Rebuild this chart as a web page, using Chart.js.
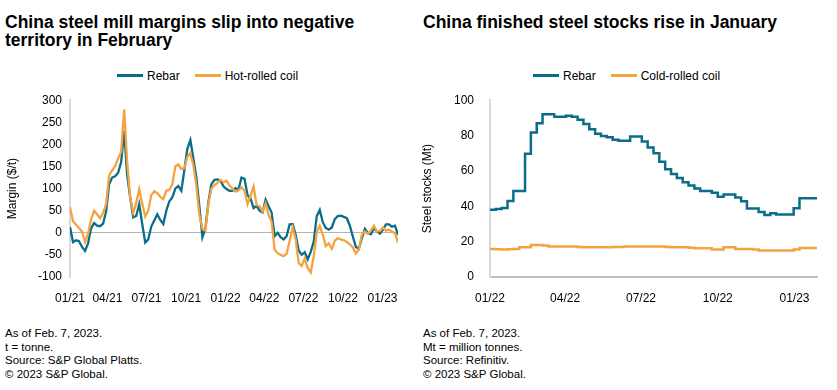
<!DOCTYPE html>
<html>
<head>
<meta charset="utf-8">
<script src="https://cdn.jsdelivr.net/npm/chart.js@4.4.0/dist/chart.umd.min.js"></script>
<style>
  body { margin: 0; background: #fff; width: 837px; height: 390px; position: relative; overflow: hidden; font-family: "Liberation Sans", Arial, sans-serif; color: #000; }
  .title { position: absolute; font-family: "Liberation Sans", sans-serif; font-weight: bold; font-size: 17.5px; line-height: 18px; }
  .legend { position: absolute; font-size: 12px; height: 14px; line-height: 14px; white-space: nowrap; }
  .legend span.sw { display: inline-block; width: 26px; height: 3px; vertical-align: middle; margin-right: 4px; position: relative; top: -1px; }
  .legend span.gap { display: inline-block; width: 15px; }
  .note { position: absolute; font-family: "Liberation Sans", sans-serif; font-size: 11.5px; line-height: 13.5px; }
  canvas { position: absolute; }
</style>
</head>
<body>
<div class="title" style="left:5px; top:13px;">China steel mill margins slip into negative<br>territory in February</div>
<div class="title" style="left:423px; top:13px;">China finished steel stocks rise in January</div>

<div class="legend" style="left:117px; top:69px;"><span class="sw" style="background:#0a6d8a"></span>Rebar<span class="gap"></span><span class="sw" style="background:#f4a340"></span>Hot-rolled coil</div>
<div class="legend" style="left:533px; top:69px;"><span class="sw" style="background:#0a6d8a"></span>Rebar<span class="gap"></span><span class="sw" style="background:#f4a340"></span>Cold-rolled coil</div>

<div style="position:absolute; left:0; top:85px; width:410px; height:222px;"><canvas id="marginChart"></canvas></div>
<div style="position:absolute; left:418px; top:85px; width:419px; height:222px;"><canvas id="stockChart"></canvas></div>

<div class="note" style="left:5px; top:327px;">As of Feb. 7, 2023.<br>t = tonne.<br>Source: S&amp;P Global Platts.<br>© 2023 S&amp;P Global.</div>
<div class="note" style="left:423px; top:327px;">As of Feb. 7, 2023.<br>Mt = million tonnes.<br>Source: Refinitiv.<br>© 2023 S&amp;P Global.</div>

<script>
// === DATA ===
// Margins, weekly from 4 Jan 2021 ($/t)
const marginStartDay = 3;   // days after 1 Jan 2021
const rebarMargin = [
  13, -21, -17, -19, -32, -41, -24, 10, 22, 16, 15, 21, 48, 110, 125, 128, 136, 160, 230, 130,
  80, 35, 38, 65, 20, -22, -15, 14, 28, 42, 29, 20, 50, 71, 80, 100, 106, 95, 142, 190,
  210, 168, 125, 60, -10, 10, 70, 110, 120, 121, 118, 105, 99, 95, 95, 101, 98, 125, 122, 85,
  78, 56, 61, 50, 46, 75, 60, 46, -8, 0, -10, -15, -7, 19, 20, -5, -40, -50, -44, -60,
  -43, -20, 38, 52, 24, 11, 7, 12, 31, 38, 39, 36, 33, 16, -9, -32, -36, -12, 9, -1,
  -3, 10, 3, -2, 7, 19, 19, 14, 16, -5
];
const hrcMargin = [
  58, 26, 18, 11, 3, -21, -2, 30, 50, 42, 33, 45, 65, 130, 141, 151, 168, 183, 279, 160,
  80, 45, 67, 99, 66, 37, 50, 85, 94, 90, 81, 76, 95, 97, 110, 150, 155, 144, 146, 172,
  180, 153, 106, 40, 9, 5, 65, 100, 108, 113, 120, 114, 118, 107, 100, 93, 96, 103, 95, 65,
  84, 105, 63, 60, 48, 66, 40, 25, -38, -46, -50, -53, -47, -18, 12, -15, -68, -75, -58, -80,
  -90, -53, 1, 16, -5, -30, -24, -36, -18, -12, -15, -17, -21, -26, -33, -47, -38, -4, 3, -2,
  5, 16, 3, 4, 12, 5, 7, 3, -1, -22
];
const marginTickDays = [3, 90, 181, 273, 365, 455, 546, 638, 730];
const marginTickLabels = ['01/21', '04/21', '07/21', '10/21', '01/22', '04/22', '07/22', '10/22', '01/23'];

// Stocks, weekly from 1 Jan 2022 (Mt)
const rebarStock = [
  38, 38.5, 39, 43, 48.6, 48.6, 69.7, 81.7, 87, 92, 92, 90.7, 90.7, 91.2, 90.7, 89, 86.5, 83.5, 81, 79.8,
  79, 77.6, 77, 77, 79.4, 79.4, 76.6, 73.3, 70, 65.2, 61, 58.3, 56, 53.6, 51.8, 50, 48.6, 48.6, 47.7, 45.4,
  46.7, 46.7, 44.9, 42.8, 38.7, 38.7, 36.8, 35.1, 36, 35.3, 35.3, 35.3, 38.9, 44.5, 44.5, 44.5, 44.5
];
const crcStock = [
  15.9, 15.7, 15.6, 15.7, 15.8, 16.8, 16.8, 18.1, 18.1, 17.8, 17.2, 17.2, 17.2, 17.2, 17.2, 16.9, 16.8, 16.8, 16.8, 16.8,
  16.8, 16.9, 17.0, 17.2, 17.2, 17.2, 17.2, 17.3, 17.3, 17.2, 17.0, 16.8, 16.8, 16.8, 16.6, 16.3, 16.3, 16.3, 15.5, 15.5,
  16.8, 16.8, 15.9, 15.9, 15.9, 15.5, 15.0, 15.0, 15.0, 15.0, 15.0, 15.0, 15.5, 16.4, 16.4, 16.4, 16.4
];
const stockTickDays = [0, 90, 181, 273, 365];
const stockTickLabels = ['01/22', '04/22', '07/22', '10/22', '01/23'];

const TEAL = '#0a6d8a';
const ORANGE = '#f4a340';
const tickFont = { family: 'Liberation Sans', size: 12 };

Chart.defaults.color = '#000';
Chart.defaults.animation = false;

function weekly(values, start) {
  return values.map((v, i) => ({ x: start + i * 7, y: v }));
}

function dateTicks(days, labels) {
  return {
    afterBuildTicks: (scale) => { scale.ticks = days.map(d => ({ value: d })); },
    ticks: {
      autoSkip: false,
      maxRotation: 0,
      font: tickFont,
      padding: 6,
      callback: (value, index) => labels[index]
    }
  };
}

// 1. Margins chart
new Chart(document.getElementById('marginChart'), {
  type: 'line',
  data: {
    datasets: [
      { label: 'Rebar', data: weekly(rebarMargin, marginStartDay), borderColor: TEAL, borderWidth: 2.3, pointRadius: 0, tension: 0, order: 2 },
      { label: 'Hot-rolled coil', data: weekly(hrcMargin, marginStartDay), borderColor: ORANGE, borderWidth: 2.3, pointRadius: 0, tension: 0, order: 1 }
    ]
  },
  options: {
    responsive: true,
    maintainAspectRatio: false,
    layout: { padding: { left: 5, right: 12, top: 9, bottom: 0 } },
    plugins: { legend: { display: false }, tooltip: { enabled: false } },
    scales: {
      x: Object.assign({
        type: 'linear',
        min: marginStartDay,
        max: marginStartDay + (rebarMargin.length - 1) * 7,
        grid: { display: false },
        border: { display: false },
        afterFit: (s) => { s.height = 30; }
      }, dateTicks(marginTickDays, marginTickLabels)),
      y: {
        min: -100, max: 300,
        ticks: { stepSize: 50, font: tickFont, padding: 8 },
        grid: {
          drawTicks: false,
          color: (ctx) => ctx.tick && ctx.tick.value === 0 ? '#b3b3b3' : 'transparent',
          lineWidth: 1
        },
        border: { display: true, color: '#d9d9d9', width: 2 },
        title: { display: true, text: 'Margin ($/t)', font: { family: 'Liberation Sans', size: 12 }, padding: 0 },
        afterFit: (s) => { s.width = 65; }
      }
    }
  }
});

// 2. Stocks chart (weekly, stepped)
new Chart(document.getElementById('stockChart'), {
  type: 'line',
  data: {
    datasets: [
      { label: 'Rebar', data: weekly(rebarStock, 0), borderColor: TEAL, borderWidth: 2.5, pointRadius: 0, stepped: true },
      { label: 'Cold-rolled coil', data: weekly(crcStock, 0), borderColor: ORANGE, borderWidth: 2.5, pointRadius: 0, stepped: true }
    ]
  },
  options: {
    responsive: true,
    maintainAspectRatio: false,
    layout: { padding: { left: 2, right: 20, top: 9, bottom: 0 } },
    plugins: { legend: { display: false }, tooltip: { enabled: false } },
    scales: {
      x: Object.assign({
        type: 'linear',
        min: 0,
        max: (rebarStock.length - 1) * 7,
        grid: { display: false },
        border: { display: true, color: '#bfbfbf', width: 2 },
        afterFit: (s) => { s.height = 30; }
      }, dateTicks(stockTickDays, stockTickLabels)),
      y: {
        min: 0, max: 100,
        ticks: { stepSize: 20, font: tickFont, padding: 8 },
        grid: { display: false },
        border: { display: true, color: '#d9d9d9', width: 2 },
        title: { display: true, text: 'Steel stocks (Mt)', font: { family: 'Liberation Sans', size: 12 }, padding: 0 },
        afterFit: (s) => { s.width = 70; }
      }
    }
  }
});
</script>
</body>
</html>
